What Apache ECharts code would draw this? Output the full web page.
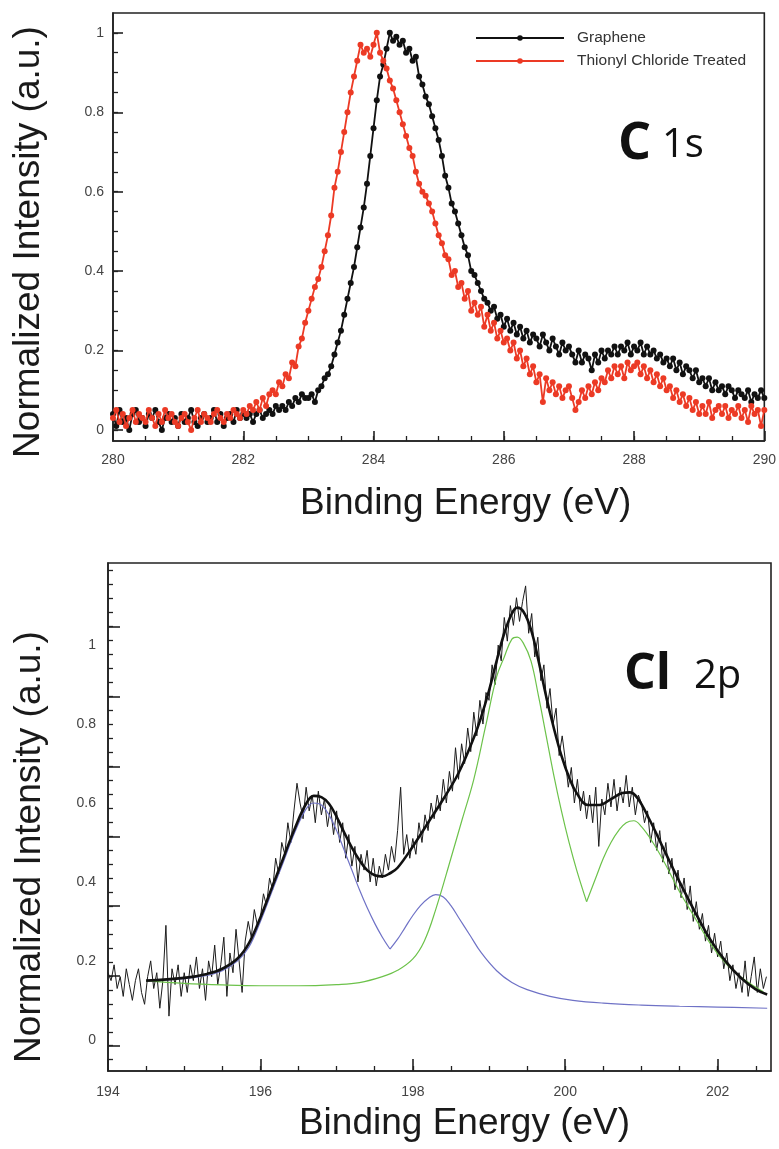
<!DOCTYPE html>
<html><head><meta charset="utf-8">
<script src="https://cdn.jsdelivr.net/npm/echarts@6/dist/echarts.min.js"></script>
<style>html,body{margin:0;padding:0;background:#fff}#chart{width:779px;height:1149px}</style>
</head><body><div id="chart"></div>
<script>
// ---------- C 1s panel (energy grid: 280.00 .. 290.00 eV, 0.05 eV step) ----------
const c1sEnergyStart = 280, c1sEnergyStep = 0.05;
const grapheneC1s = [
0.04,0.01,0.05,0.02,0.03,0.00,0.04,0.05,0.02,0.03,
0.01,0.04,0.03,0.05,0.02,0.00,0.03,0.04,0.02,0.03,
0.01,0.04,0.02,0.03,0.05,0.02,0.01,0.03,0.04,0.02,
0.03,0.05,0.02,0.04,0.01,0.03,0.04,0.02,0.05,0.03,
0.04,
0.03,0.04,0.02,0.04,0.05,0.03,0.04,0.05,0.04,0.06,
0.05,0.06,0.05,0.07,0.06,0.08,0.07,0.09,0.08,0.08,
0.09,0.07,0.10,0.11,0.13,0.14,0.16,0.19,0.22,0.25,
0.29,0.33,0.37,0.41,0.46,0.51,0.56,0.62,0.69,0.76,
0.83,0.89,0.92,0.96,1.00,0.98,0.99,0.97,0.98,0.95,
0.96,0.93,0.94,0.89,0.87,0.84,0.82,0.79,0.76,0.73,
0.69,0.64,0.61,0.57,0.55,0.52,0.49,0.46,0.44,0.40,
0.39,0.37,0.35,0.33,0.32,0.30,0.31,0.28,0.29,0.26,
0.28,0.25,0.27,0.24,0.26,0.23,0.25,0.22,0.24,0.23,
0.21,0.24,0.22,0.20,0.23,0.21,0.19,0.22,0.20,0.21,
0.19,0.17,0.20,0.17,0.19,0.18,0.15,0.19,0.17,0.20,
0.18,0.20,0.19,0.21,0.19,0.21,0.20,0.22,0.19,0.21,
0.20,0.22,0.19,0.21,0.19,0.20,0.18,0.19,0.17,0.18,
0.16,0.18,0.15,0.17,0.14,0.16,0.15,0.13,0.15,0.12,
0.13,0.11,0.13,0.10,0.12,0.10,0.11,0.09,0.11,0.10,
0.08,0.10,0.09,0.08,0.10,0.07,0.09,0.08,0.10,0.08
];
const thionylC1s = [
0.03,0.05,0.02,0.04,0.01,0.03,0.05,0.02,0.04,0.03,
0.02,0.05,0.03,0.01,0.04,0.02,0.05,0.03,0.04,0.02,
0.01,0.03,0.04,0.02,0.00,0.03,0.05,0.02,0.04,0.03,
0.02,0.04,0.05,0.03,0.02,0.04,0.03,0.05,0.04,0.03,
0.05,
0.04,0.06,0.05,0.07,0.05,0.08,0.06,0.09,0.10,0.09,
0.12,0.11,0.14,0.13,0.17,0.16,0.21,0.23,0.27,0.30,
0.33,0.36,0.38,0.41,0.45,0.49,0.54,0.61,0.65,0.70,
0.75,0.80,0.85,0.89,0.93,0.97,0.95,0.96,0.94,0.97,
1.00,0.95,0.93,0.91,0.88,0.86,0.83,0.80,0.77,0.74,
0.71,0.69,0.65,0.62,0.60,0.59,0.57,0.55,0.52,0.49,
0.47,0.44,0.43,0.39,0.40,0.36,0.37,0.33,0.35,0.30,
0.32,0.29,0.31,0.26,0.29,0.25,0.27,0.23,0.25,0.22,
0.23,0.20,0.22,0.18,0.20,0.16,0.18,0.14,0.16,0.12,
0.14,0.07,0.13,0.10,0.12,0.09,0.11,0.08,0.10,0.11,
0.08,0.05,0.07,0.10,0.08,0.11,0.09,0.12,0.10,0.13,
0.12,0.15,0.13,0.16,0.14,0.16,0.13,0.17,0.15,0.16,
0.17,0.14,0.16,0.13,0.15,0.12,0.14,0.11,0.13,0.10,
0.11,0.08,0.10,0.07,0.09,0.06,0.08,0.05,0.07,0.04,
0.06,0.04,0.07,0.03,0.05,0.06,0.04,0.06,0.03,0.05,
0.04,0.06,0.03,0.05,0.02,0.06,0.04,0.05,0.01,0.05
];
const c1sXTicks = [280, 282, 284, 286, 288, 290];
const c1sYTicks = [0, 0.2, 0.4, 0.6, 0.8, 1];

// ---------- Cl 2p panel ----------
// raw spectrum: 194.00 .. 202.64 eV, 0.04 eV step
const cl2pEnergyStart = 194, cl2pEnergyStep = 0.04;
const cl2pRaw = [
0.17,0.15,0.19,0.13,0.16,0.11,0.18,0.14,0.10,0.15,0.18,0.12,0.09,0.16,0.20,0.13,0.17,0.08,0.15,0.29,0.06,0.18,0.14,0.19,0.11,
0.17,0.12,0.19,0.15,0.21,0.13,0.18,0.10,0.20,0.16,0.24,0.14,0.19,0.26,0.11,0.22,0.17,0.28,0.20,0.12,0.25,0.30,0.26,0.33,0.29,
0.31,0.37,0.34,0.41,0.38,0.46,0.42,0.50,0.47,0.55,0.50,0.58,0.65,0.60,0.56,0.64,0.58,0.62,0.55,0.63,0.57,0.61,0.54,0.59,0.52,
0.58,0.50,0.55,0.46,0.52,0.44,0.49,0.40,0.47,0.43,0.48,0.40,0.46,0.39,0.44,0.41,0.47,0.43,0.49,0.45,0.53,0.64,0.47,0.52,0.46,
0.51,0.47,0.55,0.50,0.57,0.53,0.60,0.56,0.62,0.58,0.66,0.60,0.68,0.63,0.74,0.66,0.75,0.70,0.79,0.73,0.83,0.77,0.86,0.80,0.88,
0.86,0.95,0.90,1.00,0.96,1.07,1.01,1.10,1.05,1.12,1.06,1.11,1.15,1.03,1.08,0.97,1.02,0.91,0.95,0.84,0.89,0.80,0.84,0.72,0.77,
0.71,0.64,0.69,0.60,0.66,0.58,0.63,0.56,0.62,0.55,0.64,0.49,0.61,0.57,0.65,0.59,0.66,0.58,0.64,0.60,0.67,0.59,0.64,0.57,0.62,
0.60,0.55,0.58,0.50,0.55,0.48,0.53,0.45,0.50,0.42,0.46,0.38,0.43,0.36,0.41,0.33,0.39,0.30,0.35,0.28,0.32,0.25,0.29,0.22,0.27,
0.21,0.25,0.18,0.22,0.15,0.19,0.13,0.17,0.12,0.20,0.11,0.16,0.21,0.12,0.18,0.13,0.16
];
// envelope fit
const fitEnergy = [194.5,195.0,195.3,195.5,195.7,195.85,196.0,196.15,196.3,196.45,196.6,196.7,196.8,196.9,197.0,197.1,197.2,197.3,197.4,197.5,197.6,197.7,197.8,198.0,198.2,198.4,198.6,198.8,198.9,199.0,199.1,199.2,199.3,199.37,199.45,199.55,199.65,199.75,199.85,199.95,200.05,200.15,200.3,200.45,200.6,200.75,200.85,200.95,201.1,201.3,201.5,201.7,201.9,202.1,202.3,202.5,202.65];
const fitIntensity = [0.15,0.157,0.167,0.18,0.206,0.245,0.31,0.385,0.46,0.535,0.598,0.618,0.615,0.598,0.565,0.525,0.487,0.455,0.43,0.417,0.414,0.422,0.436,0.49,0.55,0.61,0.676,0.765,0.82,0.885,0.96,1.03,1.08,1.095,1.085,1.04,0.96,0.87,0.79,0.72,0.665,0.625,0.595,0.595,0.61,0.625,0.627,0.612,0.56,0.48,0.40,0.325,0.255,0.2,0.158,0.128,0.115];
// blue component (two branches meeting at the cusp)
const blueEnergyA = [194.5,195.0,195.3,195.5,195.7,195.85,196.0,196.15,196.3,196.45,196.6,196.7,196.8,196.9,197.0,197.1,197.2,197.3,197.4,197.5,197.6,197.7];
const blueIntensityA = [0.15,0.155,0.163,0.175,0.2,0.235,0.3,0.375,0.45,0.525,0.585,0.6,0.595,0.57,0.53,0.48,0.43,0.38,0.335,0.295,0.26,0.23];
const blueEnergyB = [197.7,197.8,197.9,198.0,198.1,198.2,198.3,198.4,198.5,198.6,198.75,198.9,199.1,199.3,199.5,199.8,200.1,200.5,201.0,201.5,202.0,202.65];
const blueIntensityB = [0.23,0.255,0.285,0.315,0.34,0.358,0.368,0.362,0.34,0.31,0.265,0.22,0.175,0.145,0.127,0.11,0.1,0.093,0.088,0.085,0.083,0.08];
// green component
const greenEnergyA = [194.5,195.0,195.5,196.0,196.5,197.0,197.3,197.6,197.8,198.0,198.15,198.3,198.5,198.65,198.8,198.95,199.1,199.2,199.3,199.37,199.45,199.55,199.65,199.75,199.85,199.95,200.05,200.15,200.28];
const greenIntensityA = [0.15,0.143,0.139,0.137,0.137,0.14,0.145,0.16,0.176,0.205,0.25,0.33,0.46,0.56,0.66,0.79,0.92,0.97,1.015,1.02,1.005,0.96,0.87,0.77,0.67,0.58,0.5,0.43,0.35];
const greenEnergyB = [200.28,200.4,200.5,200.6,200.7,200.8,200.9,201.0,201.15,201.3,201.5,201.7,201.9,202.1,202.3,202.5,202.6];
const greenIntensityB = [0.35,0.41,0.46,0.5,0.53,0.55,0.555,0.54,0.5,0.45,0.375,0.31,0.245,0.195,0.16,0.133,0.122];

const cl2pXTicks = [194, 196, 198, 200, 202];
const cl2pYLabels = [0, 0.2, 0.4, 0.6, 0.8, 1];
const cl2pYMajorTicks = [-0.015, 0.162, 0.340, 0.515, 0.693, 0.868, 1.046];

// ---------- helpers ----------
function gridSeries(start, step, arr) { return arr.map((v, i) => [Math.round((start + i * step) * 1000) / 1000, v]); }
function pairs(xs, ys) { return xs.map((x, i) => [x, ys[i]]); }
function subdivide(majors, n, lo, hi) {
  const step = (majors[1] - majors[0]) / n, out = [];
  for (let v = majors[0]; v > lo + 1e-6; v -= step) out.push(Math.round(v * 1e6) / 1e6);
  for (let v = majors[0] + step; v < hi - 1e-6; v += step) out.push(Math.round(v * 1e6) / 1e6);
  return out;
}
const INK = '#222';
const FONT = '"Liberation Sans", Arial, sans-serif';
function majorAxis(gi, min, max, labels, ticks, tickLen, margin, extra) {
  return Object.assign({
    type: 'value', gridIndex: gi, min: min, max: max,
    axisLine: { show: true, onZero: false, lineStyle: { color: INK, width: 1.6 } },
    axisTick: { show: true, inside: true, length: tickLen, customValues: ticks, lineStyle: { color: INK, width: 1.6 } },
    axisLabel: { show: true, customValues: labels, margin: margin, color: '#444', fontSize: 14, fontFamily: FONT },
    splitLine: { show: false },
    nameMoveOverlap: false
  }, extra);
}
function minorAxis(gi, min, max, ticks, pos) {
  return {
    type: 'value', gridIndex: gi, min: min, max: max, position: pos,
    axisLine: { show: false, onZero: false },
    axisTick: { show: true, inside: true, length: 5, customValues: ticks, lineStyle: { color: INK, width: 1.3 } },
    axisLabel: { show: false }, splitLine: { show: false }
  };
}
const nameStyle = (pad) => ({ fontSize: 37, color: '#1a1a1a', fontFamily: FONT, padding: pad });

const c1sYMin = -0.028, c1sYMax = 1.05;
const cl2pXMin = 194, cl2pXMax = 202.7, cl2pYMin = -0.079, cl2pYMax = 1.208;

const option = {
  animation: false,
  backgroundColor: '#fff',
  grid: [
    { left: 113, top: 13, width: 656, height: 428, show: true, borderColor: INK, borderWidth: 1.6, backgroundColor: 'transparent' },
    { left: 108, top: 563, width: 663, height: 508, show: true, borderColor: INK, borderWidth: 1.6, backgroundColor: 'transparent' }
  ],
  legend: {
    data: ['Graphene', 'Thionyl Chloride Treated'],
    orient: 'vertical', left: 470, top: 25, itemWidth: 88, itemHeight: 7, itemGap: 7,
    textStyle: { fontSize: 15.5, color: '#333', fontFamily: FONT, padding: [0, 0, 0, 8] }
  },
  xAxis: [
    majorAxis(0, 280, 290, c1sXTicks, c1sXTicks, 10, 12, {
      position: 'bottom', name: 'Binding Energy (eV)', nameLocation: 'middle', nameGap: 44, nameTextStyle: nameStyle([0, 0, 0, 54]) }),
    minorAxis(0, 280, 290, subdivide(c1sXTicks, 4, 280, 290), 'bottom'),
    majorAxis(1, cl2pXMin, cl2pXMax, cl2pXTicks, cl2pXTicks, 12, 14, {
      position: 'bottom', name: 'Binding Energy (eV)', nameLocation: 'middle', nameGap: 34, nameTextStyle: nameStyle([0, 0, 0, 50]) }),
    minorAxis(1, cl2pXMin, cl2pXMax, subdivide(cl2pXTicks, 4, cl2pXMin, cl2pXMax), 'bottom')
  ],
  yAxis: [
    majorAxis(0, c1sYMin, c1sYMax, c1sYTicks, c1sYTicks, 10, 9, {
      position: 'left', name: 'Normalized Intensity (a.u.)', nameLocation: 'middle', nameGap: 66, nameTextStyle: nameStyle([0, 30, 0, 0]) }),
    minorAxis(0, c1sYMin, c1sYMax, subdivide(c1sYTicks, 4, c1sYMin, c1sYMax), 'left'),
    majorAxis(1, cl2pYMin, cl2pYMax, cl2pYLabels, cl2pYMajorTicks, 12, 12, {
      position: 'left', name: 'Normalized Intensity (a.u.)', nameLocation: 'middle', nameGap: 60, nameTextStyle: nameStyle([0, 60, 0, 0]) }),
    minorAxis(1, cl2pYMin, cl2pYMax, subdivide(cl2pYMajorTicks, 5, cl2pYMin, cl2pYMax), 'left')
  ],
  graphic: [
    { type: 'text', x: 618, y: 170, style: { text: 'C', font: 'bold 52px "Open Sans", sans-serif', fill: '#111', verticalAlign: 'bottom' } },
    { type: 'text', x: 662, y: 166, style: { text: '1s', font: '40px "Open Sans", sans-serif', fill: '#111', verticalAlign: 'bottom' } },
    { type: 'text', x: 624, y: 700, style: { text: 'Cl', font: 'bold 50px "Open Sans", sans-serif', fill: '#111', verticalAlign: 'bottom' } },
    { type: 'text', x: 694, y: 697, style: { text: '2p', font: '40px "Open Sans", sans-serif', fill: '#111', verticalAlign: 'bottom' } }
  ],
  series: [
    { type: 'line', name: 'Graphene', xAxisIndex: 0, yAxisIndex: 0, data: gridSeries(c1sEnergyStart, c1sEnergyStep, grapheneC1s),
      symbol: 'circle', symbolSize: 6, showAllSymbol: true, lineStyle: { color: '#111', width: 1.8 }, itemStyle: { color: '#111' }, z: 2 },
    { type: 'line', name: 'Thionyl Chloride Treated', xAxisIndex: 0, yAxisIndex: 0, data: gridSeries(c1sEnergyStart, c1sEnergyStep, thionylC1s),
      symbol: 'circle', symbolSize: 6, showAllSymbol: true, lineStyle: { color: '#ec3a25', width: 1.8 }, itemStyle: { color: '#ec3a25' }, z: 3 },
    { type: 'line', name: 'Cl 2p data', xAxisIndex: 2, yAxisIndex: 2, data: gridSeries(cl2pEnergyStart, cl2pEnergyStep, cl2pRaw),
      showSymbol: false, lineStyle: { color: '#1c1c1c', width: 1 }, z: 2 },
    { type: 'line', name: 'Component 1', xAxisIndex: 2, yAxisIndex: 2, data: pairs(blueEnergyA, blueIntensityA),
      showSymbol: false, smooth: 0.4, lineStyle: { color: '#6f72c6', width: 1.2 }, z: 3 },
    { type: 'line', name: 'Component 1', xAxisIndex: 2, yAxisIndex: 2, data: pairs(blueEnergyB, blueIntensityB),
      showSymbol: false, smooth: 0.4, lineStyle: { color: '#6f72c6', width: 1.2 }, z: 3 },
    { type: 'line', name: 'Component 2', xAxisIndex: 2, yAxisIndex: 2, data: pairs(greenEnergyA, greenIntensityA),
      showSymbol: false, smooth: 0.4, lineStyle: { color: '#6cc24a', width: 1.2 }, z: 4 },
    { type: 'line', name: 'Component 2', xAxisIndex: 2, yAxisIndex: 2, data: pairs(greenEnergyB, greenIntensityB),
      showSymbol: false, smooth: 0.4, lineStyle: { color: '#6cc24a', width: 1.2 }, z: 4 },
    { type: 'line', name: 'Fit', xAxisIndex: 2, yAxisIndex: 2, data: pairs(fitEnergy, fitIntensity),
      showSymbol: false, smooth: 0.4, lineStyle: { color: '#111', width: 2.6 }, z: 5 }
  ]
};
const chart = echarts.init(document.getElementById('chart'));
chart.setOption(option);
</script>
</body></html>
